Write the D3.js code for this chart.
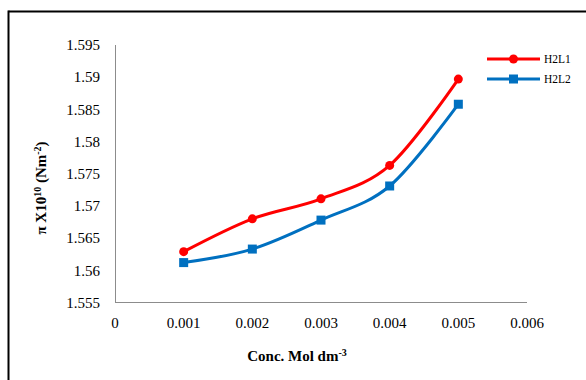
<!DOCTYPE html>
<html>
<head>
<meta charset="utf-8">
<script src="https://cdn.jsdelivr.net/npm/d3@7/dist/d3.min.js"></script>
<style>
  html, body { margin: 0; padding: 0; background: #fff; }
  svg { display: block; }
</style>
</head>
<body>
<svg id="chart" width="586" height="380"></svg>
<script>
// Concentration (mol dm^-3) and internal pressure (x10^10 N m^-2)
const conc = [0.001, 0.002, 0.003, 0.004, 0.005];
const h2l1 = [1.5629, 1.5680, 1.5711, 1.5763, 1.5897];
const h2l2 = [1.5612, 1.5633, 1.5678, 1.5731, 1.5858];
const seriesNames = ["H2L1", "H2L2"];
const xTicks = [0, 0.001, 0.002, 0.003, 0.004, 0.005, 0.006];
const yTicks = [1.555, 1.56, 1.565, 1.57, 1.575, 1.58, 1.585, 1.59, 1.595];

const FONT = '"Liberation Serif"';
const svg = d3.select("#chart").style("font-family", FONT);
const W = 586, H = 380;

// frame lines (top and left)
svg.append("line").attr("x1", 8.5).attr("x2", W).attr("y1", 11.5).attr("y2", 11.5)
  .attr("stroke", "#000").attr("stroke-width", 2);
svg.append("line").attr("x1", 8.5).attr("x2", 8.5).attr("y1", 10.5).attr("y2", H)
  .attr("stroke", "#000").attr("stroke-width", 2);

const x = d3.scaleLinear().domain([0, 0.006]).range([115, 527]);
const y = d3.scaleLinear().domain([1.555, 1.595]).range([302.5, 45]);

const axisColor = "#8c8c8c";

// y axis line
svg.append("line").attr("x1", 115.5).attr("x2", 115.5).attr("y1", y(1.595)).attr("y2", y(1.555))
  .attr("stroke", axisColor).attr("stroke-width", 1);
// x axis line
svg.append("line").attr("x1", 115).attr("x2", 527).attr("y1", 302.5).attr("y2", 302.5)
  .attr("stroke", axisColor).attr("stroke-width", 1);

// y tick labels
svg.append("g").selectAll("text").data(yTicks).join("text")
  .style("font-family", FONT)
  .attr("x", 100).attr("y", d => y(d)).attr("dy", "0.35em")
  .attr("text-anchor", "end").attr("font-size", 15).attr("fill", "#000")
  .text(d => String(+d.toFixed(3)));

// x tick labels
svg.append("g").selectAll("text").data(xTicks).join("text")
  .style("font-family", FONT)
  .attr("x", d => x(d)).attr("y", 327.5)
  .attr("text-anchor", "middle").attr("font-size", 15).attr("fill", "#000")
  .text(d => d === 0 ? "0" : d.toFixed(3));

// axis titles
const xt = svg.append("text").style("font-family", FONT)
  .attr("x", 297).attr("y", 361).attr("text-anchor", "middle")
  .attr("font-size", 15).attr("font-weight", "bold");
xt.append("tspan").text("Conc. Mol dm");
xt.append("tspan").attr("font-size", 10).attr("dy", -5).text("-3");

const yt = svg.append("text").style("font-family", FONT)
  .attr("transform", "translate(46,188) rotate(-90)")
  .attr("text-anchor", "middle").attr("font-size", 15).attr("font-weight", "bold");
yt.append("tspan").text("\u03C0 X10");
yt.append("tspan").attr("font-size", 10).attr("dy", -5).text("10");
yt.append("tspan").attr("dy", 5).text(" (Nm");
yt.append("tspan").attr("font-size", 10).attr("dy", -5).text("-2");
yt.append("tspan").attr("dy", 5).text(")");

const line = d3.line().x(d => x(d[0])).y(d => y(d[1])).curve(d3.curveCardinal.tension(0));

const series = [
  { name: seriesNames[0], values: h2l1, color: "#ff0000", shape: "circle" },
  { name: seriesNames[1], values: h2l2, color: "#0070c0", shape: "square" }
];

function drawMarker(g, shape, cx, cy, color) {
  if (shape === "circle") {
    g.append("circle").attr("cx", cx).attr("cy", cy).attr("r", 4.5).attr("fill", color);
  } else {
    g.append("rect").attr("x", cx - 4.5).attr("y", cy - 4.5).attr("width", 9).attr("height", 9).attr("fill", color);
  }
}

series.forEach(s => {
  const pts = conc.map((c, i) => [c, s.values[i]]);
  svg.append("path").datum(pts).attr("d", line)
    .attr("fill", "none").attr("stroke", s.color).attr("stroke-width", 3)
    .attr("stroke-linejoin", "round");
  const g = svg.append("g");
  pts.forEach(p => drawMarker(g, s.shape, x(p[0]), y(p[1]), s.color));
});

// legend
series.forEach((s, i) => {
  const ly = 59 + i * 20;
  const g = svg.append("g");
  g.append("line").attr("x1", 487).attr("x2", 540).attr("y1", ly).attr("y2", ly)
    .attr("stroke", s.color).attr("stroke-width", 3);
  drawMarker(g, s.shape, 513.5, ly, s.color);
  g.append("text").style("font-family", FONT)
    .attr("x", 544).attr("y", ly).attr("dy", "0.35em")
    .attr("font-size", 11.5).attr("fill", "#000").text(s.name);
});
</script>
</body>
</html>
